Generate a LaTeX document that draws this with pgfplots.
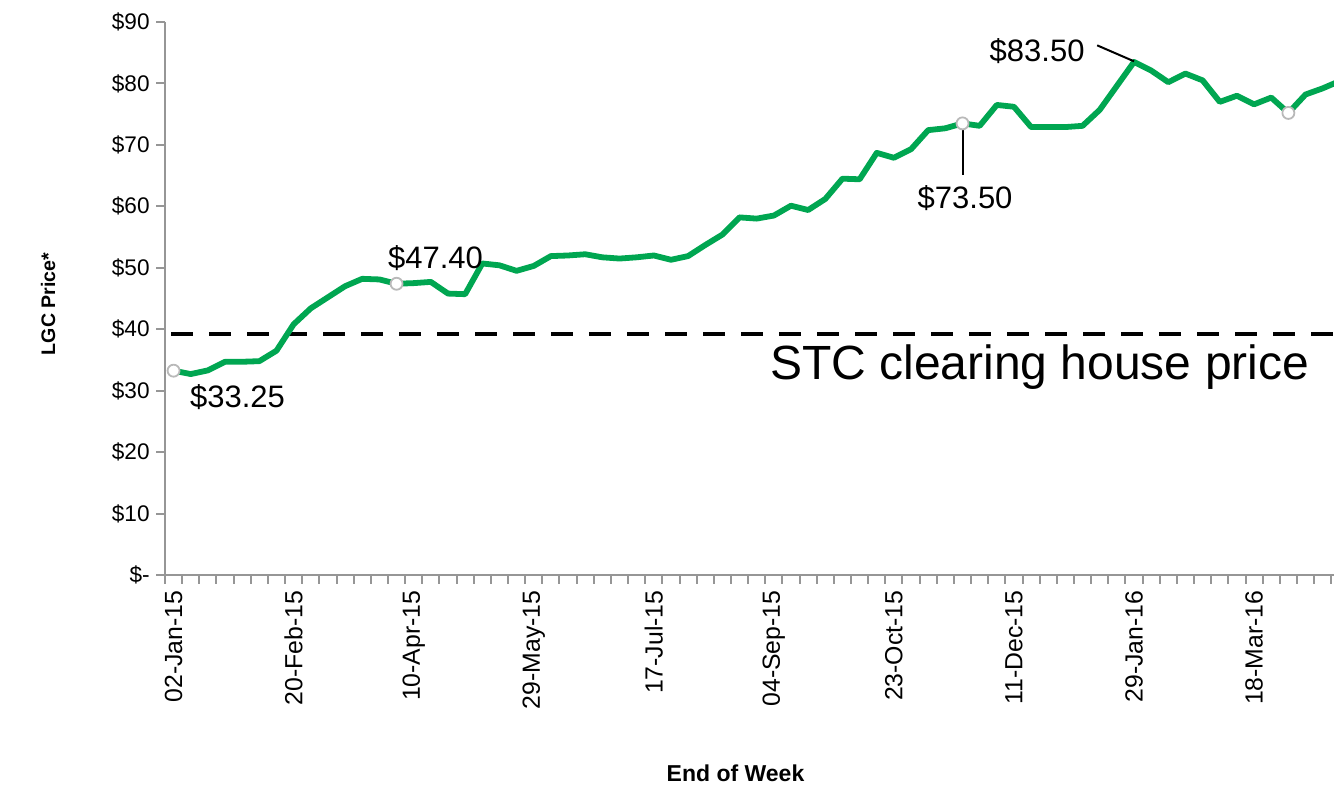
\documentclass[border=0pt]{standalone}
\usepackage{fontspec}
\setmainfont{Liberation Sans}
\usepackage{pgfplots}
\pgfplotsset{compat=1.18}
\definecolor{lgcgreen}{RGB}{0,166,81}
\definecolor{axisgrey}{RGB}{150,150,150}
\definecolor{markgrey}{RGB}{185,185,185}
\begin{document}
\begin{tikzpicture}
\path[use as bounding box] (-82.5pt,-105pt) rectangle (584.5pt,287.5pt);
\begin{axis}[
  at={(0pt,0pt)}, anchor=south west,
  scale only axis, width=584.5pt, height=276.5pt,
  xmin=-0.5, xmax=67.66, ymin=0, ymax=90,
  axis lines=left,
  axis line style={-, draw=axisgrey, line width=1.2pt},
  clip=true,
  xtick={-0.5,0.5,...,67.5},
  xticklabels={},
  extra x ticks={0,7,...,63},
  extra x tick labels={02-Jan-15,20-Feb-15,10-Apr-15,29-May-15,17-Jul-15,04-Sep-15,23-Oct-15,11-Dec-15,29-Jan-16,18-Mar-16},
  extra x tick style={tick style={draw=none}},
  tick align=outside,
  major tick length=4.4pt,
  tick style={draw=axisgrey, line width=1pt},
  xticklabel style={rotate=90, anchor=east, inner sep=0pt, font=\fontsize{12.4}{14}\selectfont},
  xticklabel shift=3.2pt,
  ytick={0,10,...,90},
  yticklabels={\$-,\$10,\$20,\$30,\$40,\$50,\$60,\$70,\$80,\$90},
  yticklabel style={anchor=east, inner sep=0pt, font=\fontsize{11.3}{13}\selectfont},
  yticklabel shift=3.1pt,
  xlabel={End of Week}, ylabel={LGC Price*},
  xlabel style={at={(axis description cs:0.488,-0.358)}, anchor=center, font=\bfseries\fontsize{11.5}{13}\selectfont},
  ylabel style={at={(axis description cs:-0.1,0.49)}, anchor=center, font=\bfseries\fontsize{9.8}{11}\selectfont},
]
\addplot[black, line width=2pt, dash pattern=on 11pt off 8pt] coordinates {(-0.15,39.2) (67.66,39.2)};
\addplot[color=lgcgreen, line width=2.9pt, line join=round,
  mark=*, mark indices={1,14,47,66}, mark size=3pt,
  mark options={fill=white, draw=markgrey, line width=0.9pt, solid}] coordinates {
(0,33.25) (1,32.7) (2,33.3) (3,34.7) (4,34.7) (5,34.8) (6,36.5) (7,40.8)
(8,43.4) (9,45.2) (10,47.0) (11,48.2) (12,48.1) (13,47.4) (14,47.5) (15,47.7)
(16,45.8) (17,45.7) (18,50.7) (19,50.4) (20,49.5) (21,50.3) (22,51.9) (23,52.0)
(24,52.2) (25,51.7) (26,51.5) (27,51.7) (28,52.0) (29,51.3) (30,51.9) (31,53.7)
(32,55.4) (33,58.2) (34,58.0) (35,58.5) (36,60.1) (37,59.4) (38,61.2) (39,64.5)
(40,64.4) (41,68.7) (42,67.9) (43,69.3) (44,72.4) (45,72.7) (46,73.5) (47,73.1)
(48,76.5) (49,76.2) (50,72.9) (51,72.9) (52,72.9) (53,73.1) (54,75.7) (55,79.6)
(56,83.5) (57,82.1) (58,80.2) (59,81.6) (60,80.5) (61,77.0) (62,78.0) (63,76.6)
(64,77.7) (65,75.2) (66,78.2) (67,79.2) (68,80.4)
};
\node[font=\fontsize{15.5}{18}\selectfont] at (axis cs:3.73,29.0) {\$33.25};
\node[font=\fontsize{15.5}{18}\selectfont] at (axis cs:15.27,51.6) {\$47.40};
\draw[black, line width=1pt] (axis cs:46,72.6) -- (axis cs:46,65.1);
\node[font=\fontsize{15.5}{18}\selectfont] at (axis cs:46.15,61.4) {\$73.50};
\draw[black, line width=1pt] (axis cs:53.85,86.2) -- (axis cs:56,83.6);
\node[font=\fontsize{15.5}{18}\selectfont] at (axis cs:50.35,85.2) {\$83.50};
\node[font=\fontsize{24}{28}\selectfont] at (axis cs:50.5,33.9) {STC clearing house price};
\end{axis}
\end{tikzpicture}
\end{document}
